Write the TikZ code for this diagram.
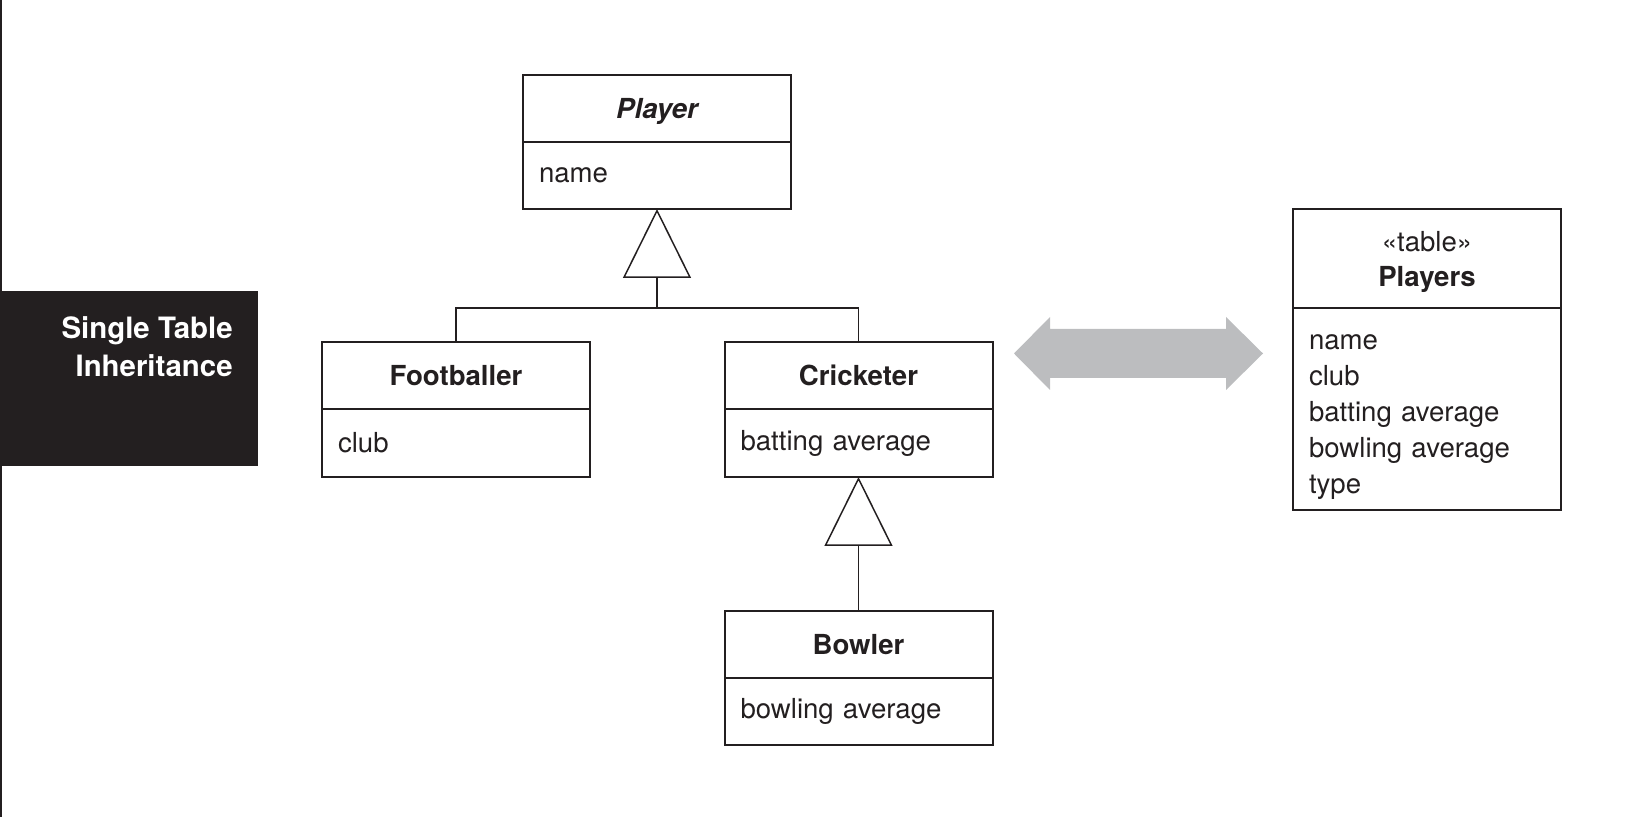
\documentclass[tikz,border=0pt]{standalone}
\usepackage{fontspec}
\setmainfont{TeX Gyre Heros}
\usetikzlibrary{arrows.meta}
\definecolor{ink}{HTML}{231F20}
\definecolor{arrowgray}{HTML}{BCBDBF}

\begin{document}
\begin{tikzpicture}[x=0.5pt, y=-0.5pt]
    % 通用样式
    \tikzstyle{class_name} = [draw=ink, line width=1pt, outer sep=0pt, minimum width=134pt, minimum height=33.5pt, inner sep=0pt, text depth=0pt, text=ink, font=\fontsize{13.8pt}{17.5pt}\selectfont\bfseries]
    \tikzstyle{class_attr} = [draw=ink, line width=1pt, outer sep=0pt, minimum width=134pt, minimum height=33.5pt, inner xsep=8pt, inner ysep=0pt, text width=118pt, align=left, anchor=north, text=ink, font=\fontsize{13.8pt}{18pt}\selectfont]
    \tikzstyle{link} = [line width=0.75pt, ink]
    \tikzstyle{inherit} = [link, -{Triangle[open, length=34.5pt, width=34pt]}]

    \useasboundingbox (0,0) rectangle (1650,817);

    % ================= 标题 =================
    \draw[ink, line width=1pt] (1,0) -- (1,817);
    \fill[ink] (0,291) rectangle (258,466);
    \node[text=white, align=right, anchor=east, inner sep=0pt, font=\fontsize{14.7pt}{19pt}\selectfont\bfseries] (caption) at (233,347) {Single Table\\Inheritance};

    % ================= 类 =================
    \node[class_name] (player) at (657,108.5) {\itshape Player};
    \node[class_attr] (player_attr) at (player.south) {name};

    \node[class_name] (foot) at (456,375.5) {Footballer};
    \node[class_attr, minimum height=34pt] (foot_attr) at (foot.south) {club};

    \node[class_name] (crick) at (858.5,375.5) {Cricketer};
    \node[class_attr, minimum height=34pt] (crick_attr) at (crick.south) {batting average};

    \node[class_name] (bowl) at (858.5,644.5) {Bowler};
    \node[class_attr] (bowl_attr) at (bowl.south) {bowling average};

    % 继承
    \coordinate (fork) at (player_attr.south |- 0,308);
    \draw[inherit] (fork) -- (player_attr.south);
    \draw[link] (foot.north) |- (fork) -| (crick.north);
    \draw[inherit] (bowl.north) -- (crick_attr.south);

    % ================= 表 =================
    \node[class_name, minimum height=49.5pt, align=center] (table) at (1427,258.5) {{\mdseries «table»}\\Players};
    \node[class_attr, minimum height=101pt] (table_attr) at (table.south) {};
    \node[class_attr, draw=none, anchor=center, minimum height=0pt, yshift=-4pt] (table_cols) at (table_attr.center) {name\\club\\batting average\\bowling average\\type};

    % 映射箭头
    \fill[arrowgray] (1014,353.5) -- (1050,317) -- (1050,329) -- (1226,329) -- (1226,317)
        -- (1263,353.5) -- (1226,390) -- (1226,378) -- (1050,378) -- (1050,390) -- cycle;

\end{tikzpicture}
\end{document}
